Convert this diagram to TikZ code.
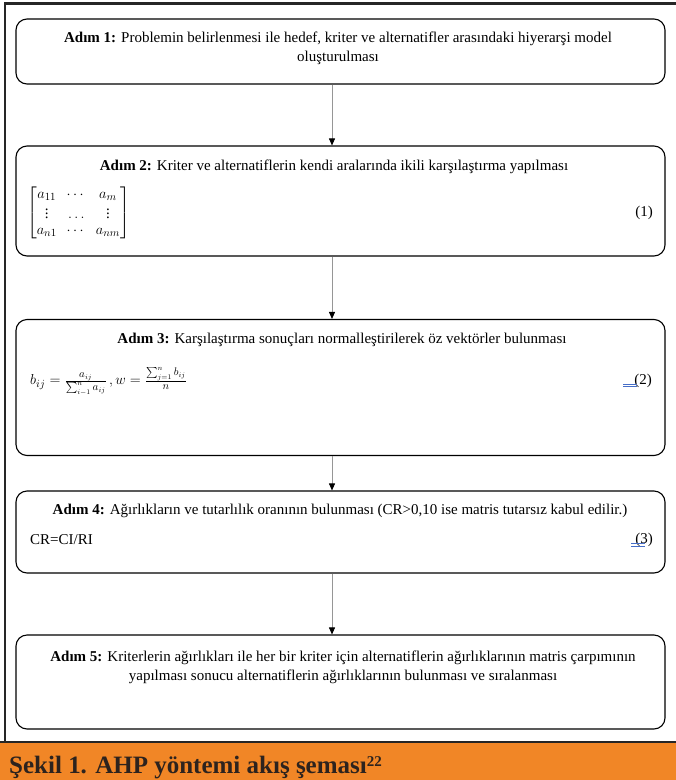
\documentclass[tikz,border=0pt]{standalone}
\usepackage{amsmath}
\usepackage{fontspec}
\setmainfont{Liberation Serif}[BoldFont={Liberation Serif Bold},ItalicFont={Liberation Serif Italic},BoldItalicFont={Liberation Serif Bold Italic}]
\usetikzlibrary{arrows.meta,calc}
\definecolor{bandorange}{RGB}{241,134,38}
\definecolor{captext}{RGB}{45,35,30}
\definecolor{linkblue}{RGB}{70,110,200}
\definecolor{arrgray}{RGB}{150,150,150}
\tikzset{
  stepbox/.style={draw=black,line width=1.1pt,rounded corners=11pt,minimum width=649pt,inner sep=0pt},
  steptext/.style={font=\fontsize{15}{19}\selectfont,align=center,inner sep=0pt},
  bodytext/.style={font=\fontsize{15}{19}\selectfont,inner sep=0pt},
  flow/.style={draw=arrgray,line width=0.8pt,-{Triangle[length=7pt,width=6pt,fill=black,color=black]}},
  frame/.style={draw=black!85,line width=2.4pt},
  dbl/.style={draw=linkblue,line width=0.8pt}
}
\begin{document}
\begin{tikzpicture}[x=1pt,y=-1pt]
\useasboundingbox (0,0) rectangle (676,780);
% frame and caption band
\fill[bandorange] (0,742) rectangle (676,780);
\draw[frame] (5,3.5) -- (676,3.5);
\draw[frame] (5,2.3) -- (5,742);
\draw[frame] (0,742) -- (676,742);
\node[anchor=base west,inner sep=0pt,text=captext,font=\fontsize{25}{28}\selectfont\bfseries] (cap) at (9,773) {Şekil 1. AHP yöntemi akış şeması\raisebox{0.6ex}{\fontsize{15}{15}\selectfont 22}};
% boxes
\node[stepbox,minimum height=65pt] (b1) at (340.5,51.5) {};
\node[stepbox,minimum height=110pt] (b2) at (340.5,201) {};
\node[stepbox,minimum height=136pt] (b3) at (340.5,387.5) {};
\node[stepbox,minimum height=82pt] (b4) at (340.5,532) {};
\node[stepbox,minimum height=94pt] (b5) at (340.5,682) {};
% texts
\node[steptext] (t1) at (338,48) {\textbf{Adım 1:} Problemin belirlenmesi ile hedef, kriter ve alternatifler arasındaki hiyerarşi model\\oluşturulması};
\node[steptext] (t2) at (334,167) {\textbf{Adım 2:} Kriter ve alternatiflerin kendi aralarında ikili karşılaştırma yapılması};
\node[bodytext,anchor=west] (m1) at (27,213) {\renewcommand{\arraystretch}{0.82}$\begin{bmatrix} a_{11} & \cdots & a_{m}\\ \vdots & \ldots & \vdots\\ a_{n1} & \cdots & a_{nm}\end{bmatrix}$};
\node[bodytext,anchor=east] (e1) at (653,213) {(1)};
\node[steptext] (t3) at (342,340) {\textbf{Adım 3:} Karşılaştırma sonuçları normalleştirilerek öz vektörler bulunması};
\node[bodytext,anchor=west] (m2) at (30,381) {$b_{ij}=\frac{a_{ij}}{\sum_{i-1}^{n}a_{ij}}\,,w=\frac{\sum_{j=1}^{n}b_{ij}}{n}$};
\node[bodytext,anchor=east] (e2) at (652,381) {(2)};
\draw[dbl] (623,384) -- (637,384);
\draw[dbl] (623,386.5) -- (637,386.5);
\node[steptext] (t4) at (340,511) {\textbf{Adım 4:} Ağırlıkların ve tutarlılık oranının bulunması (CR>0,10 ise matris tutarsız kabul edilir.)};
\node[bodytext,anchor=west] (m3) at (30,540) {CR=CI/RI};
\node[bodytext,anchor=east] (e3) at (653,540) {(3)};
\draw[dbl] (631,543.5) -- (645,543.5);
\draw[dbl] (631,546) -- (645,546);
\node[steptext] (t5) at (343,667) {\textbf{Adım 5:} Kriterlerin ağırlıkları ile her bir kriter için alternatiflerin ağırlıklarının matris çarpımının\\yapılması sonucu alternatiflerin ağırlıklarının bulunması ve sıralanması};
% connectors
\coordinate (ax) at (332,0);
\draw[flow] (b1.south -| ax) -- (b2.north -| ax);
\draw[flow] (b2.south -| ax) -- (b3.north -| ax);
\draw[flow] (b3.south -| ax) -- (b4.north -| ax);
\draw[flow] (b4.south -| ax) -- (b5.north -| ax);
\end{tikzpicture}
\end{document}
